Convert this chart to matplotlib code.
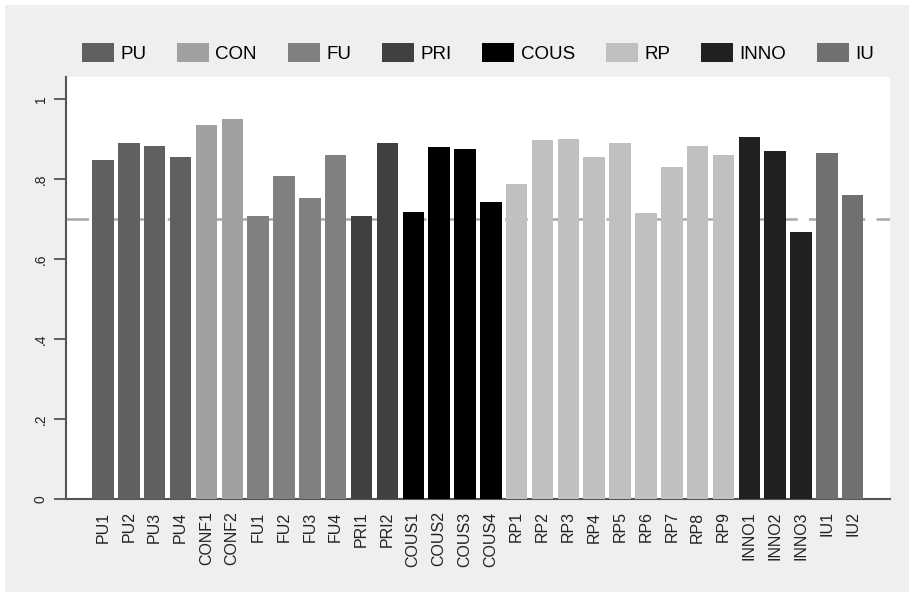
import numpy as np
import matplotlib.pyplot as plt
from matplotlib.patches import Patch, Rectangle

# --- Data --- #
items  = ['PU1', 'PU2', 'PU3', 'PU4', 'CONF1', 'CONF2', 'FU1', 'FU2', 'FU3', 'FU4',
          'PRI1', 'PRI2', 'COUS1', 'COUS2', 'COUS3', 'COUS4',
          'RP1', 'RP2', 'RP3', 'RP4', 'RP5', 'RP6', 'RP7', 'RP8', 'RP9',
          'INNO1', 'INNO2', 'INNO3', 'IU1', 'IU2']
groups = ['PU'] * 4 + ['CON'] * 2 + ['FU'] * 4 + ['PRI'] * 2 + ['COUS'] * 4 \
         + ['RP'] * 9 + ['INNO'] * 3 + ['IU'] * 2
loadings = [0.849, 0.891, 0.884, 0.856, 0.937, 0.951, 0.707, 0.808, 0.752, 0.861,
            0.709, 0.891, 0.717, 0.880, 0.877, 0.744,
            0.789, 0.898, 0.902, 0.857, 0.892, 0.715, 0.832, 0.883, 0.861,
            0.907, 0.870, 0.668, 0.867, 0.760]
threshold = 0.7

group_names  = ['PU', 'CON', 'FU', 'PRI', 'COUS', 'RP', 'INNO', 'IU']
group_colors = {'PU': '#606060', 'CON': '#a0a0a0', 'FU': '#808080', 'PRI': '#404040',
                'COUS': '#000000', 'RP': '#c0c0c0', 'INNO': '#202020', 'IU': '#707070'}

plt.rcParams['font.family'] = ['Liberation Sans', 'DejaVu Sans']

fig = plt.figure(figsize=(9.09, 5.92), dpi=100, facecolor='white')
# grey outer region (thin white strip on top/left like the original)
fig.patches.append(Rectangle((5 / 909, 0), 1, 1 - 5 / 592, transform=fig.transFigure,
                             facecolor='#efefef', edgecolor='none', zorder=-10))

ax = fig.add_axes([66 / 909, 1 - 499 / 592, 824 / 909, 422 / 592])
ax.set_facecolor('white')

x = np.arange(len(items))
bar_colors = [group_colors[g] for g in groups]
ax.bar(x, loadings, width=0.83, color=bar_colors, edgecolor='none', zorder=3)
ax.axhline(threshold, color='#a8a8a8', lw=1.8, ls=(0, (9, 4.5)), zorder=1)

ax.set_xlim(-1.43, 30.44)
ax.set_ylim(0, 1.056)
ax.set_xticks(x)
ax.set_xticklabels(items, rotation=90, fontsize=11.5, color='#222222')
ax.tick_params(axis='x', length=0, pad=9)
ax.set_yticks([0, 0.2, 0.4, 0.6, 0.8, 1.0])
ax.set_yticklabels(['0', '.2', '.4', '.6', '.8', '1'], rotation=90, va='center',
                   fontsize=10, color='#222222')
ax.tick_params(axis='y', length=9, width=1.3, color='#555555', pad=4)

for side in ['top', 'right']:
    ax.spines[side].set_visible(False)
for side in ['left', 'bottom']:
    ax.spines[side].set_color('#555555')
    ax.spines[side].set_linewidth(1.5)

handles = [Patch(facecolor=group_colors[g], edgecolor='none') for g in group_names]
fig.legend(handles, group_names, ncol=8, loc='center', bbox_to_anchor=(478 / 909, 1 - 53 / 592),
           frameon=False, fontsize=13.5, handlelength=1.7, handleheight=1.12,
           handletextpad=0.34, columnspacing=1.65)

fig.savefig('out.png', dpi=100, facecolor=fig.get_facecolor())
